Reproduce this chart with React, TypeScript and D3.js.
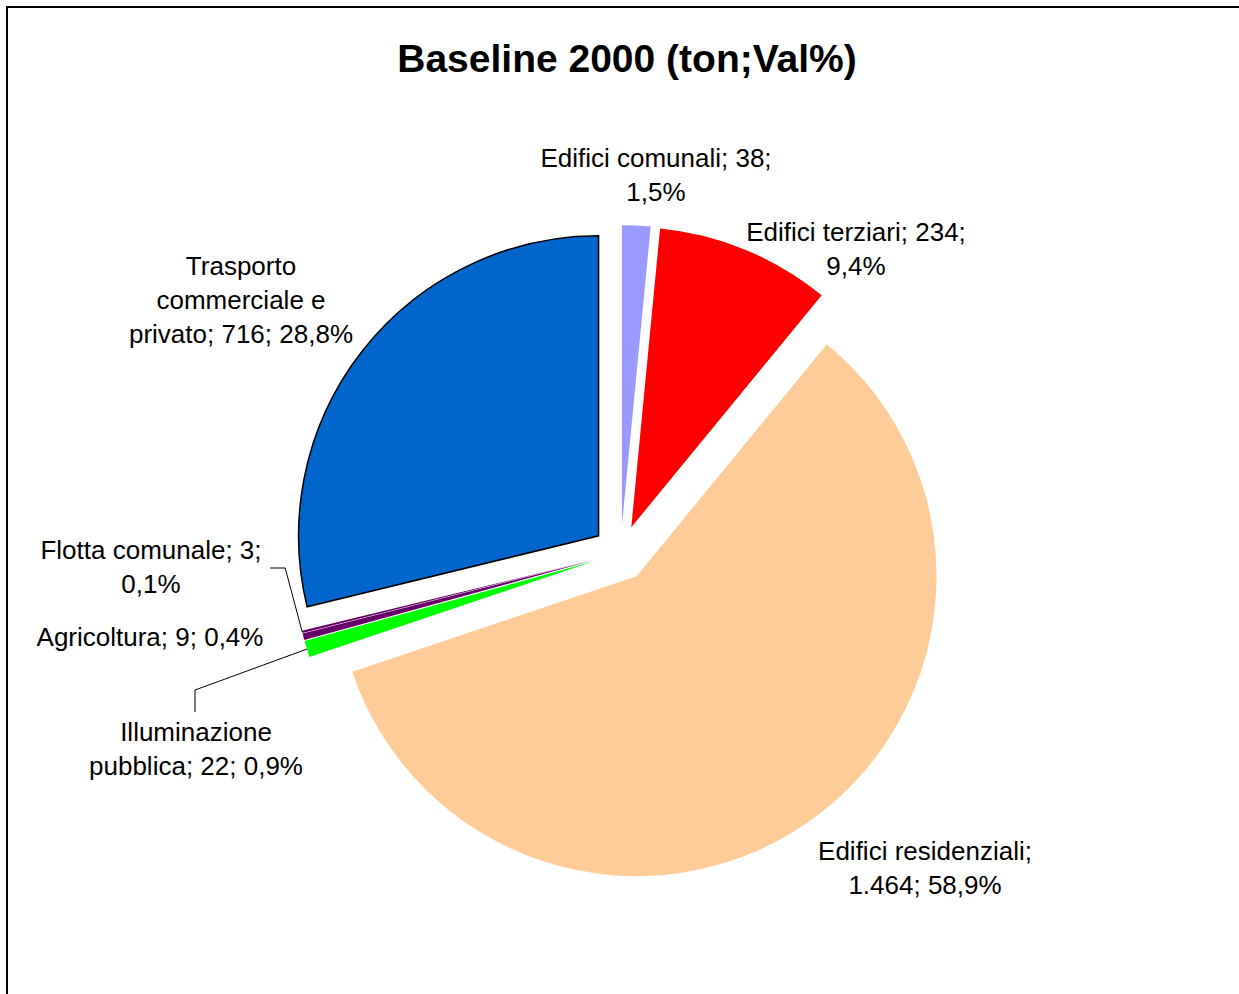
import React, { useEffect } from "react";
import * as d3 from "d3";

const categories = [
  "Edifici comunali",
  "Edifici terziari",
  "Edifici residenziali",
  "Illuminazione pubblica",
  "Agricoltura",
  "Flotta comunale",
  "Trasporto commerciale e privato",
];
const values = [38, 234, 1464, 22, 9, 3, 716];
const percentLabels = ["1,5%", "9,4%", "58,9%", "0,9%", "0,4%", "0,1%", "28,8%"];
const valueLabels = ["38", "234", "1.464", "22", "9", "3", "716"];
const colors = ["#9999FF", "#FF0000", "#FFCC99", "#00FF00", "#660066", "#660066", "#0066CC"];
const strokes = ["none", "none", "none", "none", "none", "none", "#000000"];
const title = "Baseline 2000 (ton;Val%)";

// label line layout (text lines per category) and visual centers
const labelLines = [
  ["Edifici comunali; 38;", "1,5%"],
  ["Edifici terziari; 234;", "9,4%"],
  ["Edifici residenziali;", "1.464; 58,9%"],
  ["Illuminazione", "pubblica; 22; 0,9%"],
  ["Agricoltura; 9; 0,4%"],
  ["Flotta comunale; 3;", "0,1%"],
  ["Trasporto", "commerciale e", "privato; 716; 28,8%"],
];
const labelCenters: [number, number][] = [
  [656, 158],
  [856, 232],
  [925, 851],
  [196, 732],
  [150, 637],
  [151, 550],
  [241, 266],
];

const W = 1239;
const H = 994;
const cx = 620.6;
const cy = 553.1;
const R = 300;
const EXPLODE = 28;
const LINE_H = 34;
const FONT = "'Liberation Sans', Arial, sans-serif";

export default function App() {
  useEffect(() => {
    document.body.style.margin = "0";
  }, []);

  const pie = d3
    .pie<number>()
    .sort(null)
    .value((d) => d)
    .startAngle(0)
    .endAngle(2 * Math.PI);
  const arcs = pie(values);
  const arc = d3.arc<d3.PieArcDatum<number>>().innerRadius(0).outerRadius(R);

  const offset = (a: d3.PieArcDatum<number>) => {
    const mid = (a.startAngle + a.endAngle) / 2;
    return [EXPLODE * Math.sin(mid), -EXPLODE * Math.cos(mid)];
  };
  const outerPoint = (a: d3.PieArcDatum<number>) => {
    const mid = (a.startAngle + a.endAngle) / 2;
    const [ox, oy] = offset(a);
    return [cx + ox + R * Math.sin(mid), cy + oy - R * Math.cos(mid)];
  };

  // leader lines: Flotta (index 5) and Illuminazione (index 3)
  const pF = outerPoint(arcs[5]);
  const pI = outerPoint(arcs[3]);
  const flottaLeader = d3.line()([
    [labelCenters[5][0] + 119, labelCenters[5][1] + 18],
    [pF[0] - 17, labelCenters[5][1] + 18],
    [pF[0], pF[1]],
  ]);
  const illumLeader = d3.line()([
    [labelCenters[3][0] - 1, labelCenters[3][1] - 20],
    [labelCenters[3][0] - 1, labelCenters[3][1] - 42],
    [pI[0], pI[1]],
  ]);

  return (
    <svg width={W} height={H} style={{ display: "block", background: "#fff" }}>
      <rect x={0} y={0} width={W} height={H} fill="#fff" />
      <path d={`M7,${H + 10} V7 H${W + 10}`} fill="none" stroke="#000" strokeWidth={2} />
      <text
        x={627}
        y={72}
        textAnchor="middle"
        fontFamily={FONT}
        fontWeight="bold"
        fontSize={39}
        fill="#000"
      >
        {title}
      </text>
      <g>
        {arcs.map((a, i) => {
          const [ox, oy] = offset(a);
          return (
            <path
              key={categories[i]}
              d={arc(a) || ""}
              transform={`translate(${cx + ox},${cy + oy})`}
              fill={colors[i]}
              stroke={strokes[i]}
              strokeWidth={strokes[i] === "none" ? 0 : 1.5}
              strokeLinejoin="miter"
            />
          );
        })}
      </g>
      <path d={flottaLeader || ""} fill="none" stroke="#000" strokeWidth={1} />
      <path d={illumLeader || ""} fill="none" stroke="#000" strokeWidth={1} />
      <g fontFamily={FONT} fontSize={26} fill="#000" textAnchor="middle">
        {labelLines.map((lines, i) =>
          lines.map((ln, j) => (
            <text
              key={`${i}-${j}`}
              x={labelCenters[i][0]}
              y={labelCenters[i][1] + j * LINE_H}
              dy="0.35em"
            >
              {ln}
            </text>
          ))
        )}
      </g>
    </svg>
  );
}
